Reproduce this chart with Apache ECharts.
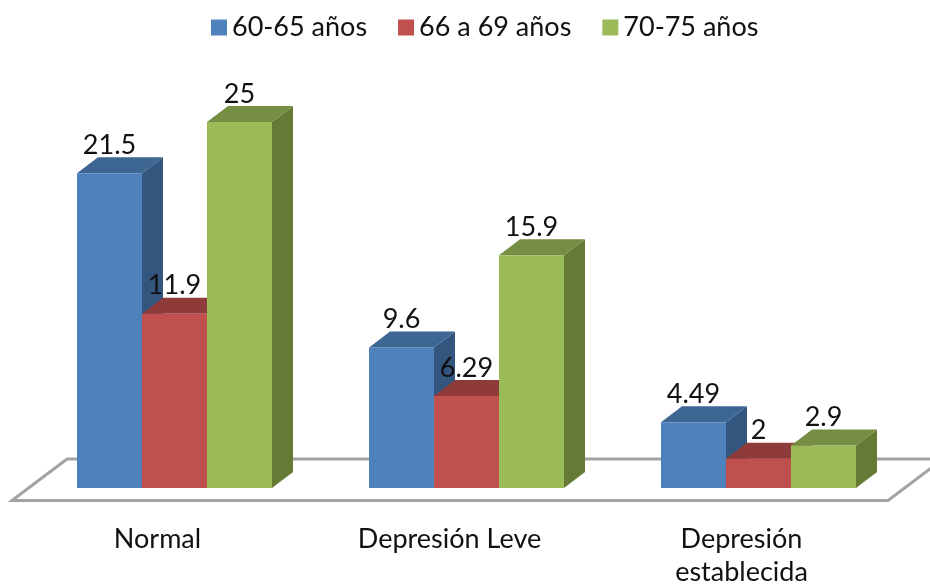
<!DOCTYPE html>
<html>
<head>
<meta charset="utf-8">
<title>Depresión por edad</title>
<script src="https://cdn.jsdelivr.net/npm/echarts@6/dist/echarts.min.js"></script>
<style>
  html, body { margin: 0; padding: 0; background: #fff; }
  #chart { width: 930px; height: 586px; }
</style>
</head>
<body>
<div id="chart"></div>
<script>
var categories = ['Normal', 'Depresión Leve', 'Depresión\nestablecida']
var seriesNames = ['60-65 años', '66 a 69 años', '70-75 años']
var edad60 = [21.5, 9.6, 4.49]
var edad66 = [11.9, 6.29, 2]
var edad70 = [25, 15.9, 2.9]
var tickLabels = [0, 25]

var fuente = 'Lato'
var colores = [
  { front: '#4f81bd', top: '#3d6693', side: '#33567f' },
  { front: '#c0504d', top: '#8f3b39', side: '#7c3331' },
  { front: '#9bbb59', top: '#758e44', side: '#647a35' }
]
// profundidad del efecto 3D, en pixeles
var dx = 21
var dy = 16
var anchoBarra = 65

function drawBar (params, api) {
  var idx = api.value(0)
  var val = api.value(1)
  var c = colores[params.seriesIndex - 1]
  var center = api.coord([idx, 0])[0]
  var base = api.coord([idx, 0])[1]
  var y = api.coord([idx, val])[1]
  var x = center + (params.seriesIndex - 2) * anchoBarra - anchoBarra / 2
  var w = anchoBarra
  return {
    type: 'group',
    children: [
      {
        type: 'polygon',
        shape: { points: [[x + w, y], [x + w + dx, y - dy], [x + w + dx, base - dy], [x + w, base]] },
        style: { fill: c.side }
      },
      {
        type: 'polygon',
        shape: { points: [[x, y], [x + dx, y - dy], [x + w + dx, y - dy], [x + w, y]] },
        style: { fill: c.top }
      },
      {
        type: 'rect',
        shape: { x: x, y: y, width: w, height: base - y },
        style: { fill: c.front }
      },
      {
        type: 'text',
        z2: 10,
        style: {
          x: x + w / 2,
          y: y - 28,
          text: String(val),
          fill: '#111',
          font: '27px ' + fuente,
          align: 'center',
          verticalAlign: 'middle'
        }
      }
    ]
  }
}

// plano del suelo, sale del area del grid
function drawFloor (params, api) {
  var g = params.coordSys
  var base = g.y + g.height
  return {
    type: 'polygon',
    shape: {
      points: [
        [g.x - 16.5, base + 12.5],
        [g.x + 38.5, base - 29],
        [g.x + 914.5, base - 29],
        [g.x + 859.5, base + 12.5]
      ]
    },
    style: { fill: '#fff', stroke: '#a3a3a3', lineWidth: 3 }
  }
}

function toData (values) {
  return values.map(function (v, i) { return [i, v] })
}

var chart = echarts.init(document.getElementById('chart'))
var valores = [edad60, edad66, edad70]
var series = [{
  name: 'suelo',
  type: 'custom',
  silent: true,
  renderItem: drawFloor,
  data: [[0, 0]],
  encode: { x: 0, y: 1 }
}]
seriesNames.forEach(function (name, i) {
  series.push({
    name: name,
    type: 'custom',
    renderItem: drawBar,
    itemStyle: { color: colores[i].front },
    data: toData(valores[i]),
    encode: { x: 0, y: 1 }
  })
})

chart.setOption({
  animation: false,
  legend: {
    data: seriesNames,
    left: 206,
    top: 9,
    icon: 'rect',
    itemWidth: 16,
    itemHeight: 16,
    itemGap: 31,
    textStyle: { fontFamily: fuente, fontSize: 27, color: '#111' }
  },
  grid: { left: 28.5, top: 122, width: 876, height: 366, outerBoundsMode: 'none' },
  xAxis: {
    type: 'category',
    data: categories,
    axisLine: { show: false },
    axisTick: { show: false },
    axisLabel: {
      margin: 35,
      padding: [0, 34, 0, 0], // las etiquetas van corridas a la izquierda de las barras
      fontFamily: fuente,
      fontSize: 27,
      lineHeight: 33,
      color: '#111',
      interval: 0
    }
  },
  yAxis: {
    type: 'value',
    min: tickLabels[0],
    max: tickLabels[1],
    show: false
  },
  series: series
})
</script>
</body>
</html>
